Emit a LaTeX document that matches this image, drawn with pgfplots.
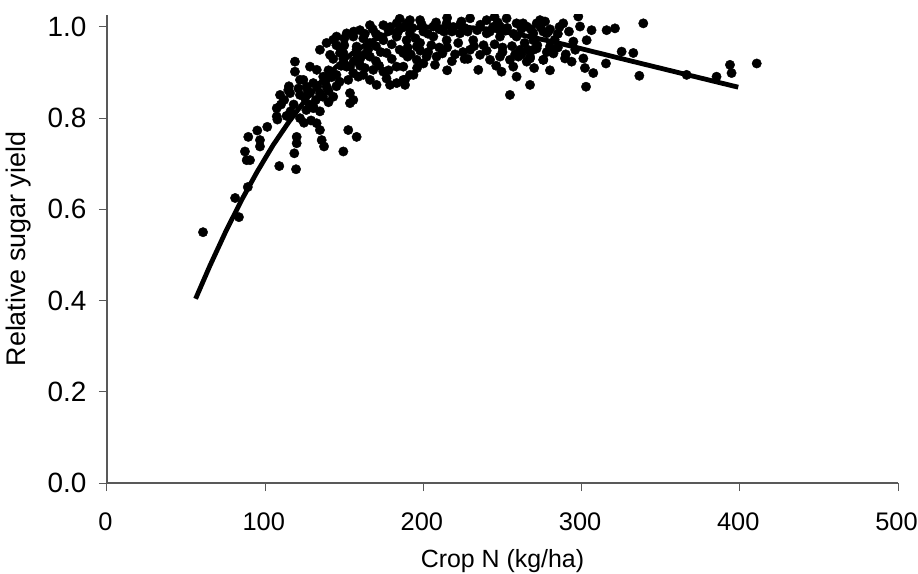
\documentclass[border=0pt]{standalone}
\usepackage{pgfplots}
\pgfplotsset{compat=1.18}
\usepackage{fontspec}
\setmainfont{Liberation Sans}

% Field observations: crop N uptake against relative sugar yield
\pgfplotstableread{
x y
60.7 0.550
81.0 0.625
83.4 0.583
89.0 0.649
89.3 0.759
95.0 0.773
101.3 0.781
96.7 0.752
96.7 0.738
87.2 0.727
88.3 0.708
90.4 0.708
108.9 0.695
119.5 0.688
107.3 0.822
107.7 0.797
113.5 0.805
124.5 0.790
119.9 0.759
119.9 0.745
118.4 0.723
132.5 0.789
134.6 0.774
135.7 0.752
137.2 0.738
130.4 0.822
134.6 0.815
109.4 0.851
115.7 0.855
122.0 0.851
128.3 0.855
136.5 0.847
126.0 0.818
130.5 0.825
118.8 0.924
118.8 0.902
114.6 0.862
107.3 0.804
149.4 0.727
152.5 0.774
157.8 0.759
128.3 0.913
132.6 0.906
136.7 0.891
130.4 0.877
138.8 0.869
143.0 0.847
134.6 0.855
126.2 0.869
122.0 0.884
124.1 0.884
112.0 0.840
118.0 0.830
125.0 0.845
132.0 0.840
140.0 0.835
145.0 0.870
128.0 0.830
110.0 0.830
116.0 0.815
121.0 0.865
127.0 0.860
133.0 0.870
138.0 0.880
142.0 0.890
147.0 0.880
122.0 0.800
129.0 0.795
115.0 0.870
140.0 0.860
134.6 0.950
138.8 0.965
143.0 0.972
145.1 0.979
151.5 0.986
155.7 0.979
147.3 0.943
153.6 0.913
152.5 0.884
153.6 0.855
155.7 0.840
149.4 0.930
143.0 0.930
157.8 0.950
158.8 0.891
153.6 0.833
140.0 0.905
145.0 0.895
148.0 0.915
160.0 0.915
145.0 0.960
150.0 0.960
163.0 0.940
156.0 0.925
162.0 0.895
166.2 0.884
168.3 0.906
170.4 0.873
176.7 0.887
178.9 0.873
183.1 0.877
187.3 0.884
191.5 0.895
183.1 0.913
174.7 0.902
159.9 0.993
166.2 1.004
174.7 1.004
183.1 1.008
191.5 1.015
141.0 0.939
149.4 0.943
157.8 0.957
166.2 0.965
174.7 0.971
183.1 0.979
191.5 0.986
195.8 0.957
166.2 0.935
176.7 0.943
187.3 0.943
151.5 0.913
155.7 0.899
207.3 0.917
234.7 0.906
254.7 0.851
267.4 0.873
242.1 0.928
249.4 0.902
256.8 0.913
258.9 0.891
265.3 0.924
267.4 0.935
275.8 0.928
187.3 0.913
193.7 0.895
188.4 0.884
188.4 0.873
195.8 0.928
202.0 0.935
208.3 0.935
229.5 0.950
235.8 0.939
248.4 0.935
254.7 0.928
261.1 0.950
269.5 0.950
189.4 1.008
197.9 1.015
206.3 1.001
214.7 1.008
223.1 1.004
229.5 1.019
240.0 1.015
248.4 1.001
252.6 1.019
258.9 1.008
265.3 1.001
273.7 1.015
277.9 0.986
189.4 0.971
197.9 0.965
206.3 0.979
214.7 0.971
223.1 0.986
231.5 0.971
240.0 0.986
248.4 0.979
258.9 0.979
269.5 0.971
200.0 0.990
210.0 0.995
218.0 0.990
226.0 0.998
234.0 0.993
244.0 1.000
252.0 0.992
262.0 0.996
280.0 0.995
285.0 0.985
195.0 0.975
205.0 0.960
215.0 0.955
222.0 0.965
232.0 0.958
245.0 0.962
256.0 0.958
264.0 0.965
272.0 0.960
283.0 0.972
170.0 0.985
178.0 0.992
186.0 0.998
162.0 0.975
170.0 0.958
180.0 0.962
190.0 0.955
198.0 0.948
212.0 0.942
225.0 0.945
240.0 0.948
262.0 0.940
285.0 0.955
160.0 0.930
170.0 0.925
180.0 0.930
190.0 0.935
200.0 0.920
218.0 0.925
260.0 0.935
250.0 0.945
150.0 0.975
156.0 0.990
163.0 0.985
168.0 0.995
172.0 0.980
179.0 1.000
184.0 0.990
193.0 0.998
199.0 1.005
203.0 0.985
208.0 1.010
213.0 0.990
219.0 1.000
224.0 1.012
228.0 0.990
236.0 1.005
242.0 0.990
247.0 1.010
253.0 0.998
257.0 0.985
263.0 1.008
268.0 0.995
274.0 1.000
279.0 0.990
286.0 1.000
292.0 0.990
148.0 0.950
158.0 0.940
165.0 0.950
173.0 0.945
185.0 0.950
192.0 0.940
203.0 0.945
210.0 0.955
220.0 0.940
228.0 0.930
238.0 0.960
250.0 0.955
258.0 0.940
266.0 0.950
278.0 0.945
290.0 0.940
296.0 0.950
150.0 0.920
163.0 0.910
172.0 0.915
178.0 0.905
196.0 0.910
215.0 0.905
226.0 0.930
246.0 0.915
270.0 0.910
280.0 0.905
204.0 1.028
229.5 1.030
258.0 1.030
277.0 1.030
215.0 1.020
245.0 1.022
185.0 1.018
297.9 1.023
288.4 1.008
299.0 1.001
306.3 0.993
315.8 0.993
321.1 0.997
339.0 1.008
294.8 0.968
303.2 0.971
325.3 0.946
332.7 0.943
289.5 0.931
293.7 0.924
301.1 0.931
302.1 0.910
307.4 0.899
315.4 0.920
302.8 0.869
336.5 0.893
271.6 1.008
276.9 1.012
269.5 0.986
275.8 0.990
271.6 0.953
280.0 0.957
282.2 0.942
275.8 0.928
267.4 0.931
366.4 0.895
385.3 0.891
393.8 0.917
394.8 0.899
410.7 0.920
}\obsdata

% Fitted response curve
\pgfplotstableread{
x y
56 0.404
65 0.476
75 0.551
85 0.620
95 0.683
105 0.741
115 0.792
125 0.838
135 0.879
145 0.913
155 0.942
165 0.965
175 0.982
185 0.994
200 1.000
220 1.001
240 0.996
260 0.984
284 0.966
320 0.935
360 0.901
399 0.868
}\fitdata

\begin{document}
\begin{tikzpicture}
\useasboundingbox (-107bp,-91bp) rectangle (811bp,483bp);
\begin{axis}[
  at={(0,0)}, anchor=origin,
  scale only axis,
  width=791bp, height=468bp,
  xmin=0, xmax=500, ymin=0, ymax=1.0263,
  axis x line*=bottom, axis y line*=left,
  axis line style={black!65, line width=1.1bp},
  tick align=outside,
  major tick length=8bp,
  every tick/.style={black!65, line width=1bp},
  xtick={0,100,...,500},
  ytick={0,0.2,0.4,0.6,0.8,1.0},
  /pgf/number format/assume math mode=true,
  yticklabel style={/pgf/number format/fixed, /pgf/number format/fixed zerofill, /pgf/number format/precision=1, xshift=-9bp, font=\fontsize{28}{32}\selectfont},
  xticklabel style={yshift=-18bp, xshift=-1.5bp, font=\fontsize{25.5}{30}\selectfont},
  ticklabel style={text=black},
  xlabel style={font=\fontsize{25}{30}\selectfont, yshift=-12bp},
  ylabel style={font=\fontsize{27}{30}\selectfont, yshift=10bp},
  xlabel={Crop N (kg/ha)},
  ylabel={Relative sugar yield},
  clip marker paths=true,
]
\addplot[only marks, mark=*, mark size=4.7bp, black] table {\obsdata};
\addplot[black, line width=4.8bp, line join=round] table {\fitdata};
\end{axis}
\end{tikzpicture}
\end{document}
